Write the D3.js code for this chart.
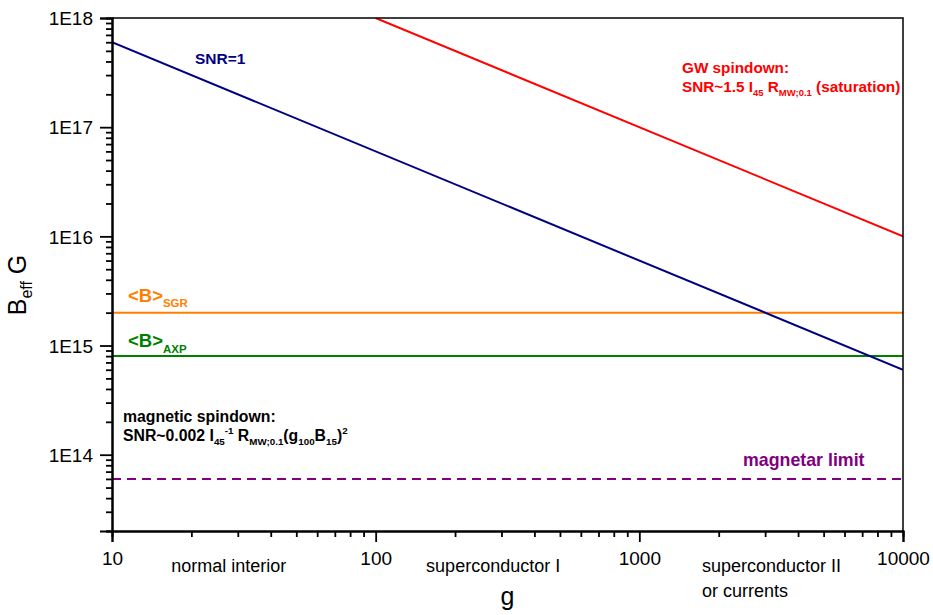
<!DOCTYPE html>
<html>
<head>
<meta charset="utf-8">
<script src="https://cdn.jsdelivr.net/npm/d3@7"></script>
<style>
  body { margin: 0; background: #fff; }
  text { font-family: "Liberation Sans", Arial, sans-serif; }
</style>
</head>
<body>
<div id="chart"></div>
<script>
// data
var gRange = [10, 10000],
    bRange = [2e13, 1e18];

var xTicks = [10, 100, 1000, 10000],
    yTicks = [1e14, 1e15, 1e16, 1e17, 1e18];
var yTickLabels = ["1E14", "1E15", "1E16", "1E17", "1E18"];

// sloped lines (g, B)
var snrOneG = [10, 10000],
    snrOneB = [6e17, 6e14];
var gwG = [100, 10000],
    gwB = [1e18, 1e16];

// horizontal levels
var levelNames = ["SGR", "AXP", "magnetar"],
    levelValues = [2e15, 8e14, 6e13],
    levelColors = ["#ff8000", "#008000", "#800080"];

var regionNames = ["normal interior", "superconductor I"];
var regionAt = [27.7, 279];

var width = 933,
    height = 615,
    margin = {left: 112, right: 30, top: 18, bottom: 84};

var svg = d3.select("#chart").append("svg")
    .attr("width", width)
    .attr("height", height);

var x = d3.scaleLog()
    .domain(gRange)
    .range([margin.left, width - margin.right]);
var y = d3.scaleLog()
    .domain(bRange)
    .range([height - margin.bottom, margin.top]);

svg.append("clipPath").attr("id", "clip")
  .append("rect")
    .attr("x", margin.left).attr("y", margin.top)
    .attr("width", width - margin.right - margin.left)
    .attr("height", height - margin.bottom - margin.top);

var plot = svg.append("g").attr("clip-path", "url(#clip)");

var line = d3.line()
    .x(function(d) { return x(d[0]); })
    .y(function(d) { return y(d[1]); });

// horizontal reference levels
levelValues.forEach(function(v, i) {
  plot.append("path")
      .datum([[gRange[0], v], [gRange[1], v]])
      .attr("d", line)
      .attr("fill", "none")
      .attr("stroke", levelColors[i])
      .attr("stroke-width", 2)
      .attr("stroke-dasharray", levelNames[i] == "magnetar" ? "9,6" : null);
});

plot.append("path")
    .datum(d3.zip(snrOneG, snrOneB))
    .attr("d", line)
    .attr("fill", "none")
    .attr("stroke", "#000080")
    .attr("stroke-width", 2);

plot.append("path")
    .datum(d3.zip(gwG, gwB))
    .attr("d", line)
    .attr("fill", "none")
    .attr("stroke", "#ff0000")
    .attr("stroke-width", 2);

// axes
var minorX = x.ticks().filter(function(t) { return xTicks.indexOf(t) < 0; });
var minorY = y.ticks().filter(function(t) { return yTicks.indexOf(t) < 0; });

var xAxis = svg.append("g")
    .attr("transform", "translate(0," + (height - margin.bottom) + ")");
xAxis.call(d3.axisBottom(x).tickValues(minorX).tickSize(6).tickFormat(""));
xAxis.append("g").call(d3.axisBottom(x).tickValues(xTicks).tickSize(11).tickFormat(d3.format("d")));

var yAxis = svg.append("g")
    .attr("transform", "translate(" + margin.left + ",0)");
yAxis.call(d3.axisLeft(y).tickValues(minorY).tickSize(6).tickFormat(""));
yAxis.append("g").call(d3.axisLeft(y).tickValues(yTicks).tickSize(12)
    .tickFormat(function(d, i) { return yTickLabels[i]; }));

svg.selectAll(".domain").attr("stroke-width", 2);
svg.selectAll(".tick line").attr("stroke-width", 1.8);
xAxis.selectAll(".tick text").attr("dy", 0).attr("y", 34)
    .style("font-size", "19px").attr("fill", "#000");
yAxis.selectAll(".tick text").attr("x", -19).attr("dy", "0.35em")
    .style("font-size", "19px").attr("fill", "#000");

// frame top and right
svg.append("path")
    .attr("d", "M" + margin.left + "," + margin.top + "H" + (width - margin.right) + "V" + (height - margin.bottom))
    .attr("fill", "none")
    .attr("stroke", "#000")
    .attr("stroke-width", 1.5);

// axis titles
svg.append("text")
    .attr("x", x(316)).attr("y", 605)
    .attr("text-anchor", "middle")
    .style("font-size", "25px")
    .text("g");

var yt = svg.append("text")
    .attr("transform", "translate(26,285) rotate(-90)")
    .attr("text-anchor", "middle")
    .style("font-size", "25px");
yt.append("tspan").text("B");
yt.append("tspan").attr("dy", 6).style("font-size", "16px").text("eff");
yt.append("tspan").attr("dy", -6).text(" G");

// region labels under the axis
regionNames.forEach(function(n, i) {
  svg.append("text")
      .attr("x", x(regionAt[i])).attr("y", 572)
      .attr("text-anchor", "middle")
      .style("font-size", "18px")
      .text(n);
});
svg.append("text")
    .attr("x", 702).attr("y", 572)
    .style("font-size", "18px")
    .text("superconductor II");
svg.append("text")
    .attr("x", 702).attr("y", 597)
    .style("font-size", "18px")
    .text("or currents");

// annotations; helper for runs of text with sub/superscripts
function rich(xp, yp, parts, color, size) {
  var t = svg.append("text")
      .attr("x", xp).attr("y", yp)
      .attr("fill", color)
      .style("font-size", size + "px")
      .style("font-weight", "bold");
  var shift = 0;
  parts.forEach(function(p) {
    var s = p[1] || 0;
    t.append("tspan")
        .attr("dy", s - shift)
        .style("font-size", s ? (size * 0.62) + "px" : null)
        .text(p[0]);
    shift = s;
  });
  return t;
}

rich(195, 64, [["SNR=1"]], "#000080", 15.5);

rich(682, 73, [["GW spindown:"]], "#ff0000", 15.3);
rich(682, 92, [["SNR~1.5 I"], ["45", 4], [" R"], ["MW;0.1", 4], [" (saturation)"]], "#ff0000", 15.3);

rich(128, 302, [["<B>"], ["SGR", 5]], "#ff8000", 18.5);
rich(128, 347, [["<B>"], ["AXP", 6]], "#008000", 18.5);

rich(123, 422, [["magnetic spindown:"]], "#000", 15.8);
rich(123, 441, [["SNR~0.002 I"], ["45", 4], ["-1", -7], [" R"], ["MW;0.1", 4], ["(g"], ["100", 4],
    ["B"], ["15", 4], [")"], ["2", -7]], "#000", 15.8);

rich(743, 466, [["magnetar limit"]], "#800080", 17.8);
</script>
</body>
</html>
